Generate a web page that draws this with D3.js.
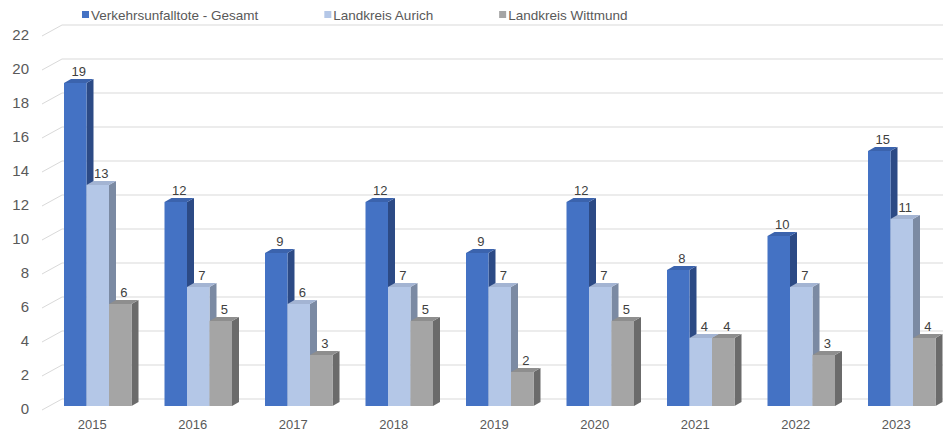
<!DOCTYPE html>
<html>
<head>
<meta charset="utf-8">
<script src="https://cdn.jsdelivr.net/npm/d3@7"></script>
<style>
body { margin: 0; background: #fff; }
svg { display: block; font-family: "Liberation Sans", Arial, sans-serif; }
</style>
</head>
<body>
<svg id="chart" width="943" height="432"></svg>
<script>
var years = ["2015", "2016", "2017", "2018", "2019", "2020", "2021", "2022", "2023"];
var seriesNames = ["Verkehrsunfalltote - Gesamt", "Landkreis Aurich", "Landkreis Wittmund"];
var gesamt   = [19, 12, 9, 12, 9, 12, 8, 10, 15];
var aurich   = [13, 7, 6, 7, 7, 7, 4, 7, 11];
var wittmund = [6, 5, 3, 5, 2, 5, 4, 3, 4];
var yTicks = [0, 2, 4, 6, 8, 10, 12, 14, 16, 18, 20, 22];

var values = [gesamt, aurich, wittmund];
// front, side, top
var colors = [
    ["#4472c4", "#2c4a85", "#3b63ad"],
    ["#b4c7e7", "#7b8aa3", "#a3b4d3"],
    ["#a5a5a5", "#6b6b6b", "#8e8e8e"]
];

var svg = d3.select("#chart"),
    width = +svg.attr("width"),
    height = +svg.attr("height");

// 3d offsets
var wallDx = 20, wallDy = -11;   // front axis -> back wall
var barDx = 7, barDy = -4;       // bar depth
var floorBack = 399, barBase = 406;

var x = d3.scaleBand().domain(years).range([42, 42 + 9 * 100.5]);
var xs = d3.scaleBand().domain(d3.range(seriesNames.length)).range([0, 67.5]);
var y = d3.scaleLinear().domain([0, 22]).range([barBase, barBase - 22 * 17]);
var yBack = d3.scaleLinear().domain([0, 22]).range([floorBack, floorBack - 22 * 17]);

// gridlines on back wall
var grid = svg.append("g").attr("class", "grid");
grid.selectAll("path")
    .data(yTicks)
    .enter().append("path")
    .attr("d", function(d) {
        var yb = yBack(d);
        return "M" + 42 + "," + (yb - wallDy) + "L" + (42 + wallDx) + "," + yb + "L" + width + "," + yb;
    })
    .attr("fill", "none")
    .attr("stroke", "#d9d9d9")
    .attr("stroke-width", 1);

// y axis labels
svg.append("g")
    .selectAll("text")
    .data(yTicks)
    .enter().append("text")
    .attr("x", 29)
    .attr("y", function(d) { return yBack(d) + 10; })
    .attr("dy", "0.35em")
    .attr("text-anchor", "end")
    .style("font-size", "15px")
    .style("fill", "#595959")
    .text(function(d) { return d; });

// bars
var bars = svg.append("g").attr("class", "bars");
years.forEach(function(yr, i) {
    values.forEach(function(vals, s) {
        var v = vals[i];
        var x0 = x(yr) + 22 + xs(s), x1 = x0 + xs.bandwidth();
        var y0 = y(v), yb = y(0);
        var g = bars.append("g");
        // side
        g.append("path")
            .attr("d", "M" + x1 + "," + y0 + "L" + (x1 + barDx) + "," + (y0 + barDy) +
                "L" + (x1 + barDx) + "," + (yb + barDy) + "L" + x1 + "," + yb + "Z")
            .attr("fill", colors[s][1]);
        // top
        g.append("path")
            .attr("d", "M" + x0 + "," + y0 + "L" + (x0 + barDx) + "," + (y0 + barDy) +
                "L" + (x1 + barDx) + "," + (y0 + barDy) + "L" + x1 + "," + y0 + "Z")
            .attr("fill", colors[s][2]);
        // front
        g.append("rect")
            .attr("x", x0)
            .attr("y", y0)
            .attr("width", xs.bandwidth())
            .attr("height", yb - y0)
            .attr("fill", colors[s][0]);
        // value label
        g.append("text")
            .attr("x", x0 + xs.bandwidth() / 2 + barDx / 2)
            .attr("y", y0 - 12)
            .attr("dy", "0.35em")
            .attr("text-anchor", "middle")
            .style("font-size", "13px")
            .style("fill", "#404040")
            .text(v);
    });
});

// x labels
svg.append("g")
    .selectAll("text")
    .data(years)
    .enter().append("text")
    .attr("x", function(d) { return x(d) + x.bandwidth() / 2; })
    .attr("y", 424)
    .attr("dy", "0.35em")
    .attr("text-anchor", "middle")
    .style("font-size", "13px")
    .style("fill", "#595959")
    .text(function(d) { return d; });

// legend
var legend = svg.append("g").attr("class", "legend");
var lx = 82;
seriesNames.forEach(function(name, s) {
    legend.append("rect")
        .attr("x", lx)
        .attr("y", 11)
        .attr("width", 7)
        .attr("height", 7)
        .attr("fill", colors[s][0]);
    var t = legend.append("text")
        .attr("x", lx + 9)
        .attr("y", 15)
        .attr("dy", "0.35em")
        .style("font-size", "13.5px")
        .style("fill", "#595959")
        .text(name);
    lx += 9 + t.node().getComputedTextLength() + 66;
});
</script>
</body>
</html>
